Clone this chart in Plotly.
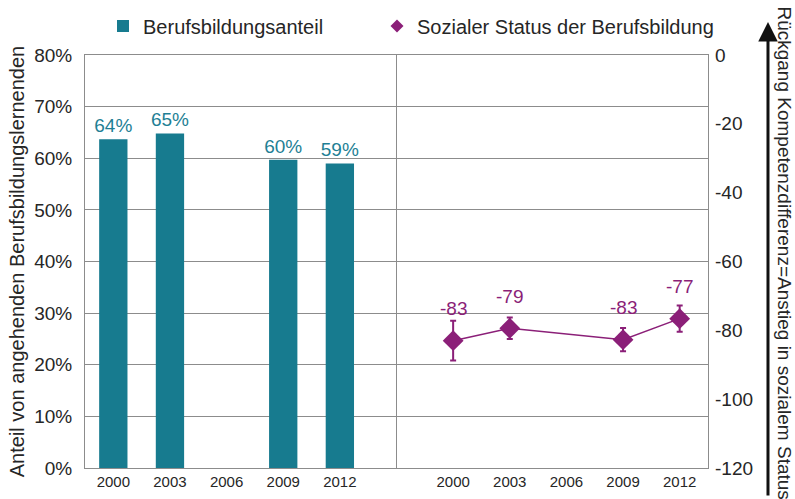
import plotly.graph_objects as go

# ---- data ----
years = ["2000", "2003", "2006", "2009", "2012"]
anteil = [0.637, 0.648, None, 0.597, 0.590]          # Berufsbildungsanteil
status = [-83.0, -79.4, None, -82.7, -76.6]          # Sozialer Status der Berufsbildung
status_err = [5.8, 3.1, None, 3.4, 3.8]
right_ticks = [0, -20, -40, -60, -80, -100, -120]

teal = "#177B8F"
teal_txt = "#1F7F95"
purple = "#8B1F78"
grid = "#8C8C8C"
txt = "#262626"
FONT = "Liberation Sans, Arial, sans-serif"

# positions: left panel categories 0..4, gap at 5, right panel 6..10
x_left = list(range(len(years)))
x_right = [len(years) + 1 + i for i in range(len(years))]

fig = go.Figure()

fig.add_trace(go.Bar(
    x=x_left, y=anteil, name="Berufsbildungsanteil",
    marker=dict(color=teal, line=dict(width=0)), width=0.5,
    text=[None if v is None else f"{v:.0%}" for v in anteil],
    textposition="outside", constraintext="none",
    textfont=dict(color=teal_txt, size=19, family=FONT),
    cliponaxis=False, yaxis="y", legend="legend",
))

fig.add_trace(go.Scatter(
    x=x_right, y=status, mode="lines+markers", yaxis="y2", showlegend=False,
    connectgaps=True,
    line=dict(color=purple, width=1.5),
    marker=dict(symbol="diamond", size=16, color=purple),
    error_y=dict(type="data", array=status_err, color=purple, thickness=2, width=3),
))

# legend entry (marker only)
fig.add_trace(go.Scatter(
    x=[None], y=[None], mode="markers", yaxis="y2",
    name="Sozialer Status der Berufsbildung", legend="legend2",
    marker=dict(symbol="diamond", size=10, color=purple),
))

annotations = []
for xv, yv in zip(x_right, status):
    if yv is None:
        continue
    annotations.append(dict(
        x=xv, y=yv, xref="x", yref="y2", text=f"{yv:.0f}", showarrow=False,
        yshift=32, font=dict(color=purple, size=19, family=FONT),
    ))

# right title (rotated) and arrow
annotations.append(dict(
    x=1.1236, y=0.522, xref="paper", yref="paper",
    text="Rückgang Kompetenzdifferenz=Anstieg in sozialem Status",
    textangle=90, showarrow=False, xanchor="center", yanchor="middle",
    font=dict(size=19, color=txt, family=FONT),
))
annotations.append(dict(
    x=1.0963, y=1.0799, xref="paper", yref="paper", text="",
    showarrow=True, ax=0, ay=475, axref="pixel", ayref="pixel",
    arrowhead=2, arrowsize=1.3, arrowwidth=3, arrowcolor="#111111",
))

legend_common = dict(
    orientation="h", y=1.07, xanchor="left", yanchor="middle",
    font=dict(size=20, color=txt, family=FONT), bgcolor="rgba(0,0,0,0)",
)

fig.update_layout(
    width=795, height=499,
    margin=dict(l=85, r=87, t=55, b=31, autoexpand=False),
    paper_bgcolor="white", plot_bgcolor="white",
    font=dict(family=FONT, color=txt, size=19),
    showlegend=True,
    legend=dict(x=0.0289, **legend_common),
    legend2=dict(x=0.4687, **legend_common),
    xaxis=dict(
        range=[-0.5, 10.5], tickmode="array",
        tickvals=x_left + x_right, ticktext=years + years,
        tickfont=dict(size=15, color=txt), showgrid=False, zeroline=False,
        showline=True, linecolor=grid, linewidth=1, mirror=True, ticks="",
    ),
    yaxis=dict(
        range=[0, 0.8], dtick=0.1, tickformat=".0%",
        showgrid=True, gridcolor=grid, gridwidth=1, zeroline=False,
        showline=True, linecolor=grid, linewidth=1, mirror=True, ticks="",
        tickfont=dict(size=19, color=txt), ticklabelstandoff=8,
        title=dict(text="Anteil von angehenden Berufsbildungslernenden",
                   font=dict(size=20, color=txt), standoff=4),
    ),
    yaxis2=dict(
        range=[-120, 0], overlaying="y", side="right",
        tickmode="array", tickvals=right_ticks,
        ticktext=[str(v) for v in right_ticks],
        showgrid=False, zeroline=False, showline=False, ticks="",
        tickfont=dict(size=19, color=txt), ticklabelstandoff=6,
    ),
    shapes=[dict(type="line", xref="x", yref="paper", x0=5, x1=5, y0=0, y1=1,
                 line=dict(color=grid, width=1))],
    annotations=annotations,
)

fig.write_html("out.html")
